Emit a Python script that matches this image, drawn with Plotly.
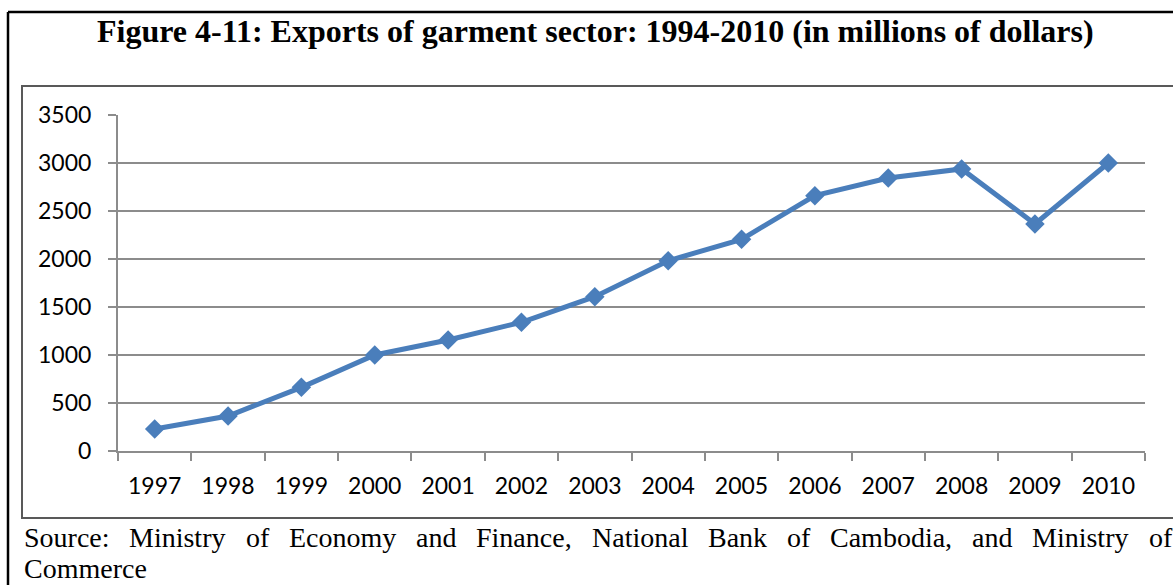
import plotly.graph_objects as go

# Garment sector exports, millions of US dollars
years = ["1997", "1998", "1999", "2000", "2001", "2002", "2003",
         "2004", "2005", "2006", "2007", "2008", "2009", "2010"]
exports = [229, 365, 663, 1000, 1156, 1341, 1607,
           1982, 2205, 2660, 2844, 2938, 2365, 3000]
y_ticks = [0, 500, 1000, 1500, 2000, 2500, 3000, 3500]

title_text = "Figure 4-11: Exports of garment sector: 1994-2010 (in millions of dollars)"
source_line1 = "Source: Ministry of Economy and Finance, National Bank of Cambodia, and Ministry of"
source_line2 = "Commerce"

W, H = 1173, 585
PL, PR, PT, PB = 118, 1145, 115, 451  # plot area in pixels


def px(x):
    return (x - PL) / (PR - PL)


def py(y):
    return (PB - y) / (PB - PT)


# Times advance widths (1/1000 em) for laying out the justified source line
TIMES_W = {
    "S": 556, "o": 500, "u": 500, "r": 333, "c": 444, "e": 444, ":": 278,
    "M": 889, "i": 278, "n": 500, "s": 389, "t": 278, "y": 500, "f": 333,
    "E": 611, "m": 778, "a": 444, "d": 500, "F": 556, ",": 250, "N": 722,
    "l": 278, "B": 667, "k": 500, "C": 667, "b": 500, "h": 500, "g": 500,
}


def word_width(word, size):
    return sum(TIMES_W.get(ch, 500) for ch in word) * size / 1000.0


def justify(line, left, right, size):
    words = line.split()
    widths = [word_width(w, size) for w in words]
    gap = (right - left - sum(widths)) / (len(words) - 1)
    xs, x = [], left
    for w in widths:
        xs.append(x)
        x += w + gap
    return words, xs


BLUE = "#4A7EBB"
GRID = "#8C8C8C"
TICK_FONT = dict(family="Lato, Open Sans, sans-serif", size=23, color="#000000")
SERIF = "Liberation Serif, Times New Roman, serif"
SRC_SIZE = 28

fig = go.Figure()
fig.add_trace(go.Scatter(
    x=years, y=exports, mode="lines+markers",
    line=dict(color=BLUE, width=5),
    marker=dict(symbol="diamond", size=15, color=BLUE),
    showlegend=False, hoverinfo="x+y",
))

shapes = [
    # outer figure frame (top and left edges)
    dict(type="line", xref="paper", yref="paper", x0=px(8), x1=px(1180),
         y0=py(12), y1=py(12), line=dict(color="#000000", width=2.5)),
    dict(type="line", xref="paper", yref="paper", x0=px(8), x1=px(8),
         y0=py(12), y1=py(600), line=dict(color="#000000", width=2.5)),
    # chart box
    dict(type="rect", xref="paper", yref="paper", x0=px(22), x1=px(1190),
         y0=py(86), y1=py(518), line=dict(color="#595959", width=2),
         fillcolor="rgba(0,0,0,0)"),
]

annotations = [
    dict(text="<b>" + title_text + "</b>", xref="paper", yref="paper",
         x=px(595), y=py(31), xanchor="center", yanchor="middle",
         showarrow=False, font=dict(family=SERIF, size=32, color="#000000")),
]
words, xs = justify(source_line1, 22, 1170, SRC_SIZE)
for w, x in zip(words, xs):
    annotations.append(dict(
        text=w, xref="paper", yref="paper", x=px(x), y=py(537),
        xanchor="left", yanchor="middle", showarrow=False,
        font=dict(family=SERIF, size=SRC_SIZE, color="#000000")))
annotations.append(dict(
    text=source_line2, xref="paper", yref="paper", x=px(22), y=py(586),
    xanchor="left", yanchor="bottom", showarrow=False,
    font=dict(family=SERIF, size=SRC_SIZE, color="#000000")))

fig.update_layout(
    width=W, height=H, autosize=False,
    margin=dict(l=PL, r=W - PR, t=PT, b=H - PB, pad=0),
    paper_bgcolor="white", plot_bgcolor="white",
    shapes=shapes, annotations=annotations,
    xaxis=dict(
        type="category", tickson="boundaries", ticks="outside", ticklen=8,
        tickcolor=GRID, tickwidth=2, showline=True, linecolor=GRID, linewidth=2,
        showgrid=False, tickfont=TICK_FONT, ticklabelstandoff=13,
        range=[-0.5, len(years) - 0.5], fixedrange=True,
    ),
    yaxis=dict(
        range=[0, 3500], tickvals=y_ticks, ticks="outside", ticklen=8,
        tickcolor=GRID, tickwidth=2, showline=True, linecolor=GRID, linewidth=2,
        showgrid=True, gridcolor=GRID, gridwidth=2, zeroline=False,
        tickfont=TICK_FONT, ticklabelstandoff=12, fixedrange=True,
    ),
)

fig.write_html("out.html")
